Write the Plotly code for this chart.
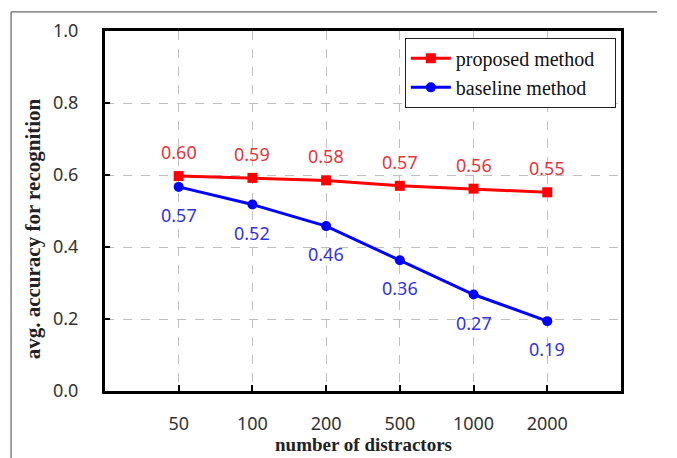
import plotly.graph_objects as go

categories = ["50", "100", "200", "500", "1000", "2000"]
proposed = [0.597, 0.592, 0.585, 0.570, 0.562, 0.552]
baseline = [0.567, 0.518, 0.458, 0.363, 0.268, 0.194]
y_ticks = [0.0, 0.2, 0.4, 0.6, 0.8, 1.0]
y_tick_labels = ["0.0", "0.2", "0.4", "0.6", "0.8", "1.0"]
series_names = ["proposed method", "baseline method"]

RED = "#ff0000"
BLUE = "#0000ff"
SERIF = "Liberation Serif, Times New Roman, serif"
SANS = "Noto Sans, Open Sans, sans-serif"
PAD = "\u00a0\u00a0\u00a0"

fig = go.Figure()
fig.add_trace(go.Scatter(
    x=categories, y=proposed, mode="lines+markers", name=series_names[0] + PAD,
    line=dict(color=RED, width=3), marker=dict(symbol="square", size=10, color=RED),
))
fig.add_trace(go.Scatter(
    x=categories, y=baseline, mode="lines+markers", name=series_names[1] + PAD,
    line=dict(color=BLUE, width=3), marker=dict(symbol="circle", size=10, color=BLUE),
))

annotations = []
for i, v in enumerate(proposed):
    annotations.append(dict(x=i, y=v, xref="x", yref="y", text=f"{v:.2f}", showarrow=False,
                            yshift=24, font=dict(family=SANS, size=18, color="#e8333a")))
for i, v in enumerate(baseline):
    annotations.append(dict(x=i, y=v, xref="x", yref="y", text=f"{v:.2f}", showarrow=False,
                            yshift=-28, font=dict(family=SANS, size=18, color="#3333dd")))
annotations.append(dict(xref="paper", yref="paper", x=0.5, y=-0.15, yanchor="middle",
                        text="<b>number of distractors</b>", showarrow=False,
                        font=dict(family=SERIF, size=19, color="#222")))
annotations.append(dict(xref="paper", yref="paper", x=-0.139, y=0.45, xanchor="center",
                        yanchor="middle",
                        textangle=-90, text="<b>avg. accuracy for recognition</b>",
                        showarrow=False, font=dict(family=SERIF, size=21, color="#222")))

shapes = [
    dict(type="line", xref="paper", yref="paper", x0=-0.182, x1=1.07, y0=1.053, y1=1.053,
         line=dict(color="#444", width=1)),
    dict(type="line", xref="paper", yref="paper", x0=-0.182, x1=-0.182, y0=1.053, y1=-0.2,
         line=dict(color="#444", width=1)),
]

fig.update_layout(
    width=677, height=458,
    margin=dict(l=105, r=56, t=31, b=67, autoexpand=False),
    paper_bgcolor="white", plot_bgcolor="white",
    showlegend=True,
    legend=dict(x=0.99, y=0.981, xanchor="right", yanchor="top",
                bgcolor="white", bordercolor="#222", borderwidth=1,
                font=dict(family=SERIF, size=20, color="#111"),
                itemwidth=40, tracegroupgap=0),
    annotations=annotations,
    shapes=shapes,
)
fig.update_xaxes(
    type="category", range=[-1, 6], automargin=False,
    showline=True, linecolor="black", linewidth=3, mirror=True,
    showgrid=True, gridcolor="#c0c0c0", griddash="dash", gridwidth=1,
    ticks="inside", ticklen=6, tickwidth=2, tickcolor="black",
    ticklabelstandoff=14,
    tickfont=dict(family=SANS, size=18, color="#333"),
)
fig.update_yaxes(
    range=[0, 1], tickvals=y_ticks, ticktext=y_tick_labels, automargin=False,
    showline=True, linecolor="black", linewidth=3, mirror=True,
    showgrid=True, gridcolor="#c0c0c0", griddash="dash", gridwidth=1,
    ticks="inside", ticklen=5, tickwidth=2, tickcolor="black",
    ticklabelstandoff=20,
    tickfont=dict(family=SANS, size=18, color="#333"),
    zeroline=False,
)

fig.write_html("out.html", config={"displayModeBar": False},
               post_script="document.body.style.margin='0';")
